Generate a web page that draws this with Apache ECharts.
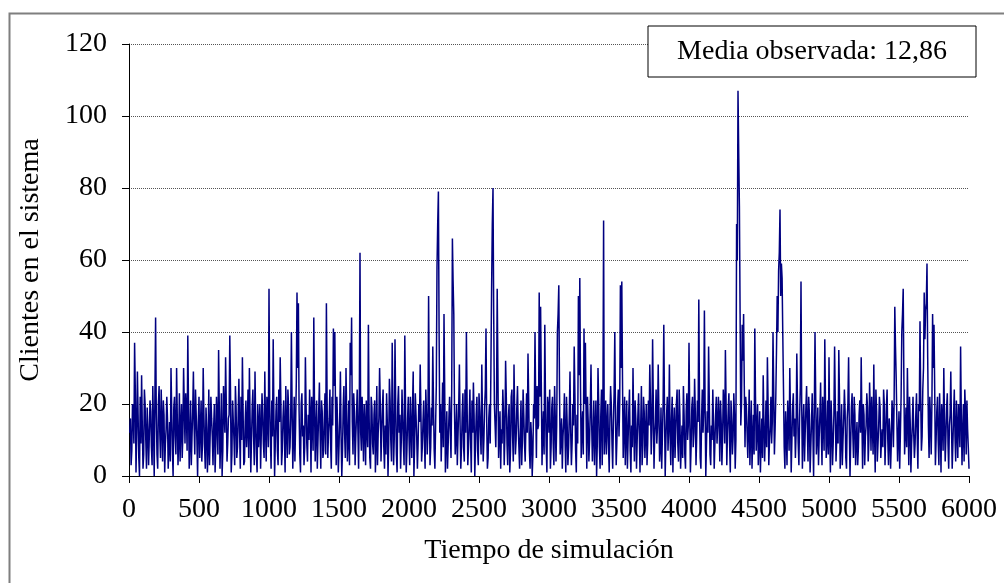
<!DOCTYPE html>
<html>
<head>
<meta charset="utf-8">
<script src="https://cdn.jsdelivr.net/npm/echarts@6/dist/echarts.min.js"></script>
<style>
html,body{margin:0;padding:0;background:#fff;}
#chart{width:1004px;height:583px;}
</style>
</head>
<body>
<div id="chart"></div>
<script>
// Sampling of simulated time
const T0 = 10;
const STEP = 10;
// Customers in system at t = T0 + i*STEP (one row = 200 time units)
const CLIENTES = [
  16,7,18,37,1,29,5,22,28,2,24,10,19,3,21,8,25,0,44,6,
  20,12,24,4,17,9,22,2,15,30,7,19,11,30,3,23,14,5,30,9,
  18,39,2,21,11,29,6,17,0,22,13,4,30,8,19,1,24,12,16,3,
  20,9,14,35,2,23,7,18,33,4,16,39,1,21,10,25,5,17,12,22,
  33,3,15,8,24,30,1,19,11,29,6,20,14,2,23,9,29,4,17,52,
  10,21,38,0,18,7,24,33,3,16,12,25,5,19,8,40,2,22,14,51,
  48,6,20,11,3,33,9,17,24,1,15,44,4,21,10,26,2,18,7,23,
  48,5,16,9,22,41,40,3,14,8,29,0,19,12,30,4,21,37,44,6,
  18,11,24,2,62,7,15,20,3,13,42,5,22,9,17,1,25,12,30,4,
  19,8,14,23,0,27,10,37,3,38,6,20,12,2,24,9,39,1,16,11,
  22,5,29,8,17,2,20,31,4,15,10,24,6,50,3,19,36,7,14,58,
  79,12,4,26,45,1,18,9,22,5,66,45,6,20,11,31,2,17,8,24,
  40,3,15,10,21,26,0,17,7,23,12,31,4,19,41,2,16,9,52,80,
  20,8,52,5,18,13,24,3,32,9,16,1,22,11,31,6,19,14,2,21,
  10,17,4,23,34,7,15,0,20,40,5,13,51,47,3,18,42,8,22,12,
  2,19,9,25,4,40,53,6,16,11,23,1,14,8,29,3,20,36,7,17,
  50,55,5,18,41,37,2,15,10,31,4,21,13,0,30,8,17,3,71,12,
  6,20,1,25,9,15,40,3,19,11,53,54,5,22,12,2,18,7,14,30,
  4,16,10,23,1,25,8,18,12,3,21,31,6,38,2,15,9,31,4,19,
  11,42,0,17,7,31,3,22,13,5,20,9,24,2,14,25,6,18,10,37,
  1,19,8,27,3,21,49,5,16,12,46,0,18,36,6,14,24,2,17,9,
  22,4,15,11,20,35,3,18,9,21,6,23,2,70,107,75,14,42,45,8,
  19,5,24,12,2,17,41,7,20,10,1,16,28,4,21,33,3,14,9,40,
  6,22,50,57,74,59,39,8,18,3,15,30,1,19,11,5,34,9,16,54,
  2,20,12,25,4,17,8,23,0,40,6,19,11,26,3,15,38,5,21,33,
  1,14,9,36,4,18,35,2,20,10,24,5,16,33,0,19,12,22,3,15,
  8,21,33,2,17,11,23,4,26,7,14,31,1,18,9,22,5,13,24,3,
  19,10,16,2,21,8,47,27,4,18,12,40,52,6,19,30,3,15,9,22,
  5,17,11,20,43,7,24,51,46,59,14,22,6,45,42,3,18,10,23,1,
  16,30,4,19,9,14,29,2,17,11,21,5,15,36,3,20,24,6,13,2
];
// Customers in system at the half steps t = T0 - STEP/2 + i*STEP
const CLIENTES_MEDIO = [
  12,3,20,9,24,12,17,0,9,14,6,20,2,13,11,18,3,14,22,17,
  2,25,5,15,21,1,13,16,8,4,18,0,22,6,16,10,4,20,12,19,
  23,7,20,10,3,18,14,24,10,15,5,21,9,17,2,13,8,3,22,11,
  14,1,22,6,19,11,0,25,12,20,9,17,24,6,15,3,19,8,27,2,
  10,18,4,21,13,5,16,10,24,3,15,1,8,20,12,17,5,14,22,8,
  20,2,11,17,9,22,3,15,20,7,21,1,13,24,6,16,19,11,4,26,
  30,18,1,23,14,8,19,4,10,17,22,7,20,13,2,18,12,21,5,16,
  6,21,12,24,2,14,25,19,22,1,16,11,7,25,5,17,10,3,28,15,
  23,3,17,13,20,12,22,4,14,21,8,17,2,19,6,21,10,3,16,20,
  12,24,2,6,15,9,21,4,18,11,19,1,25,17,10,16,3,20,7,22,
  3,14,19,0,23,11,9,15,18,8,21,2,17,12,22,8,14,20,2,25,
  70,40,20,14,8,24,10,2,16,13,24,54,18,11,3,19,14,8,23,4,
  12,20,8,24,1,12,17,9,22,3,18,6,16,10,24,15,5,20,30,70,
  45,14,20,30,12,2,9,18,11,22,3,20,7,24,4,17,10,25,8,13,
  3,24,9,14,12,21,2,11,6,16,20,25,14,22,26,12,6,20,1,19,
  24,8,22,3,16,14,45,24,11,2,15,10,22,3,17,12,9,14,23,1,
  9,28,25,13,6,20,18,22,4,19,14,12,3,21,9,20,2,24,18,6,
  21,14,9,16,20,2,23,16,10,24,20,30,27,13,3,21,10,24,1,8,
  15,21,2,17,12,14,3,22,5,20,9,14,20,13,21,11,24,14,18,8,
  2,20,18,10,22,14,11,16,1,19,12,24,4,17,8,5,17,2,23,14,
  18,8,22,12,18,11,15,20,2,24,18,20,9,12,21,3,10,15,9,22,
  14,16,21,3,24,9,20,12,23,1,15,11,17,10,60,90,45,20,32,25,
  22,12,14,3,21,10,6,22,13,3,18,9,5,15,11,8,20,10,22,15,
  24,13,35,40,62,50,55,24,2,12,21,7,17,10,23,16,12,20,3,25,
  20,14,4,19,14,22,1,15,12,18,22,11,3,17,12,22,7,20,10,6,
  12,21,3,17,20,10,9,22,11,3,16,18,2,20,14,9,23,5,17,10,
  3,17,12,16,20,3,14,19,10,18,22,6,13,24,4,14,19,10,8,20,
  11,24,3,12,9,18,20,36,15,11,2,22,45,26,12,8,16,22,1,14,
  12,9,23,2,18,22,11,30,38,48,33,5,16,20,30,24,10,22,3,15,
  20,7,16,11,23,2,17,14,9,24,4,13,20,8,17,12,4,18,21,8
];
const X_TICKS = [0,500,1000,1500,2000,2500,3000,3500,4000,4500,5000,5500,6000];
const Y_TICKS = [0,20,40,60,80,100,120];
const X_TITLE = 'Tiempo de simulación';
const Y_TITLE = 'Clientes en el sistema';
const NOTE = 'Media observada: 12,86';

const seriesData = [];
CLIENTES.forEach((v, i) => {
  seriesData.push([T0 - STEP / 2 + i * STEP, CLIENTES_MEDIO[i]]);
  seriesData.push([T0 + i * STEP, v]);
});
const FONT = '"Liberation Serif", "Times New Roman", serif';
const FS = 28;

const chart = echarts.init(document.getElementById('chart'), null, {renderer: 'canvas'});
chart.setOption({
  animation: false,
  backgroundColor: '#ffffff',
  grid: {left: 129, right: 35, top: 44, bottom: 107, containLabel: false},
  xAxis: {
    type: 'value',
    min: X_TICKS[0], max: X_TICKS[X_TICKS.length - 1], interval: X_TICKS[1] - X_TICKS[0],
    name: X_TITLE, nameLocation: 'middle', nameGap: 61,
    nameTextStyle: {fontFamily: FONT, fontSize: FS, color: '#000'},
    axisLine: {show: true, onZero: false, lineStyle: {color: '#000', width: 1}},
    axisTick: {show: true, inside: false, length: 7, lineStyle: {color: '#000'}},
    axisLabel: {fontFamily: FONT, fontSize: FS, color: '#000', margin: 20,
      formatter: function (v) { return String(v); }},
    splitLine: {show: false}
  },
  yAxis: {
    type: 'value',
    min: Y_TICKS[0], max: Y_TICKS[Y_TICKS.length - 1], interval: Y_TICKS[1] - Y_TICKS[0],
    name: Y_TITLE, nameLocation: 'middle', nameGap: 84,
    nameTextStyle: {fontFamily: FONT, fontSize: FS, color: '#000'},
    axisLine: {show: true, lineStyle: {color: '#000', width: 1}},
    axisTick: {show: true, inside: false, length: 7, lineStyle: {color: '#000'}},
    axisLabel: {fontFamily: FONT, fontSize: FS, color: '#000', margin: 22,
      formatter: function (v) { return String(v); }},
    splitLine: {show: true, lineStyle: {color: '#555', width: 1, type: [1, 1]}}
  },
  series: [{
    type: 'line',
    data: seriesData,
    showSymbol: false,
    symbol: 'none',
    sampling: null,
    lineStyle: {color: '#000080', width: 1.5},
    z: 3
  }],
  graphic: [
    {type: 'rect', left: 7, top: 11, shape: {x: 0, y: 0, width: 1100, height: 700},
     style: {fill: 'none', stroke: '#7f7f7f', lineWidth: 2}, silent: true, z: 10},
    {type: 'rect', shape: {x: 648, y: 26, width: 328, height: 51},
     style: {fill: '#fff', stroke: '#000', lineWidth: 1}, z: 20},
    {type: 'text', x: 812, y: 52,
     style: {text: NOTE, fontFamily: FONT, fontSize: FS, fill: '#000', align: 'center', verticalAlign: 'middle'}, z: 21}
  ]
});
</script>
</body>
</html>
